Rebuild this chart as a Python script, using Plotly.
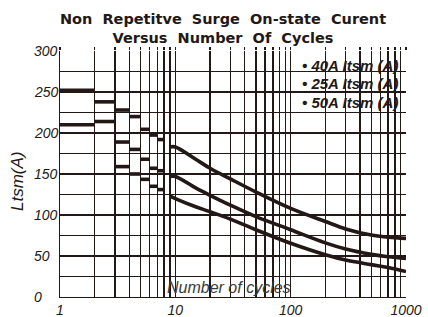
import plotly.graph_objects as go

# ---- data ----
step_cycles = [1, 2, 3, 4, 5, 6, 7, 8]          # step boundaries (segment n -> n+1)
step_50A = [252, 238, 228, 220, 204.5, 197.5, 192]
step_40A = [210, 214, 189, 180, 168, 157, 154]
step_25A = [None, None, 159, 150, 143.5, 135, 131]

curve_cycles = [9, 10, 15, 20, 30, 50, 100, 200, 300, 500, 700, 1000]
curve_50A = [183, 183, 168, 157, 144, 128, 108, 92, 83, 75.5, 73, 71.5]
curve_40A = [147, 147, 133, 124, 112, 98, 82, 66, 58.5, 52, 49, 47]
curve_25A = [123, 120, 110, 104, 95, 82, 65.5, 51.5, 45, 39.5, 36, 31]

legend_names = ["40A Itsm (A)", "25A Itsm (A)", "50A Itsm (A)"]
x_ticks = [1, 10, 100, 1000]
x_minor = [2, 3, 4, 5, 6, 7, 8, 9, 20, 30, 40, 50, 60, 70, 80, 90,
           200, 300, 400, 500, 600, 700, 800, 900]
y_ticks = [0, 50, 100, 150, 200, 250, 300]

INK = "#231815"
LW = 3.6
GW = 1.4

fig = go.Figure()

def steps(vals):
    xs, ys = [], []
    for i, v in enumerate(vals):
        if v is None:
            continue
        xs += [step_cycles[i], step_cycles[i + 1], None]
        ys += [v, v, None]
    return xs, ys

for vals in (step_50A, step_40A, step_25A):
    xs, ys = steps(vals)
    fig.add_trace(go.Scatter(x=xs, y=ys, mode="lines", showlegend=False,
                             line=dict(color=INK, width=LW), hoverinfo="skip"))

for vals in (curve_50A, curve_40A, curve_25A):
    fig.add_trace(go.Scatter(x=curve_cycles, y=vals, mode="lines", showlegend=False,
                             line=dict(color=INK, width=LW, shape="spline", smoothing=1.0),
                             hoverinfo="skip"))

# invisible trace to carry the top tick axis
fig.add_trace(go.Scatter(x=[x_ticks[0], x_ticks[-1]], y=[None, None], xaxis="x2",
                         mode="lines", showlegend=False, hoverinfo="skip"))

L, R, T, B = 60, 22, 51, 20
W, H = 428, 317
pw, ph = W - L - R, H - T - B

def px(xp):
    return (xp - L) / pw

def py(yp):
    return (H - B - yp) / ph

fig.update_layout(
    width=W, height=H,
    margin=dict(l=L, r=R, t=T, b=B, pad=0),
    paper_bgcolor="white", plot_bgcolor="white",
    showlegend=False,
    font=dict(family="Liberation Sans, Arial, sans-serif", color=INK),
    title=dict(
        text="Non  Repetitve  Surge  On-state  Curent<br>Versus  Number  Of  Cycles",
        font=dict(family="DejaVu Sans, sans-serif", size=14.5, weight="bold", color=INK),
        x=223 / W, xanchor="center", xref="container",
        y=1 - 24 / H, yanchor="top", yref="container",
    ),
    xaxis=dict(
        type="log", range=[0, 3], tickvals=x_ticks,
        ticktext=[str(v) for v in x_ticks],
        showgrid=True, gridcolor=INK, gridwidth=GW,
        showline=True, linecolor=INK, linewidth=GW,
        zeroline=False, ticks="",
        tickfont=dict(size=14, style="italic", color=INK),
        minor=dict(tickvals=x_minor, showgrid=True, gridcolor=INK, gridwidth=GW, ticks=""),
        automargin=False, fixedrange=True,
    ),
    xaxis2=dict(
        type="log", range=[0, 3], overlaying="x", side="top",
        tickvals=x_ticks, showticklabels=False, showgrid=False, zeroline=False,
        ticks="outside", ticklen=3, tickwidth=GW, tickcolor=INK,
        minor=dict(tickvals=x_minor, ticks="outside", ticklen=3, tickwidth=GW,
                   tickcolor=INK, showgrid=False),
        automargin=False, fixedrange=True,
    ),
    yaxis=dict(
        range=[0, 300], tickvals=y_ticks, showticklabels=False,
        showgrid=True, gridcolor=INK, gridwidth=GW,
        showline=True, linecolor=INK, linewidth=GW,
        zeroline=False, ticks="",
        minor=dict(dtick=25, showgrid=True, gridcolor=INK, gridwidth=GW, ticks=""),
        automargin=False, fixedrange=True,
    ),
)

annotations = [
    dict(text="Ltsm(A)", xref="paper", yref="paper", x=px(17), y=py(181),
         showarrow=False, textangle=-90, xanchor="center", yanchor="middle",
         font=dict(size=17, style="italic", color=INK)),
    dict(text="Number of cycles", xref="paper", yref="paper", x=px(229), y=py(287),
         showarrow=False, xanchor="center", yanchor="middle",
         font=dict(size=16, style="italic", color="#3a3a3a")),
]
# left-aligned y tick labels, as in the reference
for v in y_ticks:
    annotations.append(dict(
        text=str(v), xref="paper", yref="y", x=px(32), y=v, showarrow=False,
        xanchor="left", yanchor="middle",
        font=dict(size=14, style="italic", color=INK)))
for i, name in enumerate(legend_names):
    annotations.append(dict(
        text="\u2022 " + name, xref="paper", yref="paper",
        x=px(300), y=py(65 + i * 18.5), showarrow=False,
        xanchor="left", yanchor="middle",
        font=dict(size=15, style="italic", weight="bold", color=INK)))
fig.update_layout(annotations=annotations)

fig.write_html("out.html",
               config={"displayModeBar": False, "staticPlot": True},
               post_script="document.body.style.margin='0';document.body.style.overflow='hidden';")
